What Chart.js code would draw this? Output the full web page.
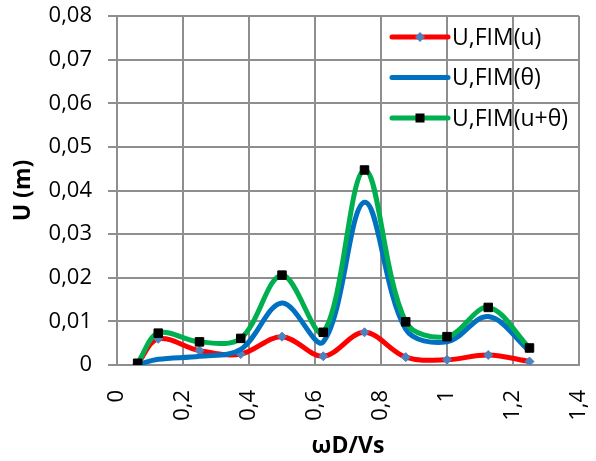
<!DOCTYPE html>
<html>
<head>
<meta charset="utf-8">
<script src="https://cdn.jsdelivr.net/npm/chart.js@4/dist/chart.umd.min.js"></script>
<style>
    html, body { margin: 0; padding: 0; background: #fff; }
    #wrap { width: 596px; height: 461px; }
</style>
</head>
<body>
<div id="wrap"><canvas id="chart" width="596" height="461"></canvas></div>
<script>
// frequency ratio wD/Vs
const xValues = [0.0625, 0.125, 0.25, 0.375, 0.5, 0.625, 0.75, 0.875, 1.0, 1.125, 1.25];

// displacement U (m)
const uFimU = [0.0003, 0.0060, 0.0033, 0.0025, 0.0065, 0.0020, 0.0075, 0.0018, 0.0012, 0.0023, 0.0008];
const uFimTheta = [0.0001, 0.0013, 0.0020, 0.0036, 0.0142, 0.0053, 0.0373, 0.0082, 0.0053, 0.0111, 0.0032];
const uFimSum = [0.0004, 0.0073, 0.0053, 0.0061, 0.0206, 0.0075, 0.0447, 0.0099, 0.0065, 0.0132, 0.0039];

const seriesLabels = ['U,FIM(u)', 'U,FIM(θ)', 'U,FIM(u+θ)'];

const gridColor = '#8e8e8e';

Chart.defaults.font.family = "'Open Sans', sans-serif";
Chart.defaults.font.size = 22;
Chart.defaults.color = '#000';

const toPoints = (ys) => xValues.map((x, i) => ({ x: x, y: ys[i] }));

// Legend drawn inside the plot, top right, over the grid
const insideLegend = {
    id: 'insideLegend',
    afterDraw(chart) {
        const ctx = chart.ctx;
        const x0 = 392, x1 = 448, textX = 452;
        chart.data.datasets.forEach((ds, i) => {
            const y = 37 + i * 40.5;
            ctx.save();
            ctx.strokeStyle = ds.borderColor;
            ctx.lineWidth = 5;
            ctx.lineCap = 'round';
            ctx.beginPath();
            ctx.moveTo(x0, y);
            ctx.lineTo(x1, y);
            ctx.stroke();
            const mx = (x0 + x1) / 2;
            if (ds.pointStyle === 'rectRot') {
                ctx.fillStyle = ds.pointBackgroundColor;
                ctx.beginPath();
                ctx.moveTo(mx - 5, y);
                ctx.lineTo(mx, y - 5);
                ctx.lineTo(mx + 5, y);
                ctx.lineTo(mx, y + 5);
                ctx.closePath();
                ctx.fill();
            } else if (ds.pointStyle === 'rect') {
                ctx.fillStyle = ds.pointBackgroundColor;
                ctx.fillRect(mx - 4.5, y - 4.5, 9, 9);
            }
            ctx.fillStyle = '#000';
            ctx.font = "23px 'Open Sans', sans-serif";
            ctx.textBaseline = 'middle';
            ctx.textAlign = 'left';
            ctx.fillText(ds.label, textX, y + 1);
            ctx.restore();
        });
    }
};

new Chart(document.getElementById('chart'), {
    type: 'line',
    data: {
        datasets: [
            {
                label: seriesLabels[0],
                data: toPoints(uFimU),
                borderColor: '#ff0000',
                borderWidth: 5,
                tension: 0.35,
                pointStyle: 'rectRot',
                pointRadius: 4.5,
                pointBackgroundColor: '#4f81bd',
                pointBorderColor: '#4f81bd',
                pointBorderWidth: 1,
                order: 3
            },
            {
                label: seriesLabels[1],
                data: toPoints(uFimTheta),
                borderColor: '#0070c0',
                borderWidth: 5,
                tension: 0.35,
                pointRadius: 0,
                order: 2
            },
            {
                label: seriesLabels[2],
                data: toPoints(uFimSum),
                borderColor: '#00b050',
                borderWidth: 5,
                tension: 0.35,
                pointStyle: 'rect',
                pointRadius: 6,
                pointBackgroundColor: '#000',
                pointBorderColor: '#000',
                pointBorderWidth: 1,
                order: 1
            }
        ]
    },
    options: {
        responsive: false,
        animation: false,
        layout: { padding: { top: 16, right: 17, left: 0, bottom: 0 } },
        plugins: {
            legend: { display: false },
            tooltip: { enabled: false }
        },
        scales: {
            x: {
                type: 'linear',
                min: 0,
                max: 1.4,
                afterFit: (scale) => {
                    scale.height = 96;
                    scale.paddingLeft = 0;
                    scale.paddingRight = 0;
                },
                ticks: {
                    stepSize: 0.2,
                    minRotation: 90,
                    maxRotation: 90,
                    padding: 25,
                    callback: (v) => String(Math.round(v * 10) / 10).replace('.', ',')
                },
                grid: { color: gridColor, lineWidth: 2, drawTicks: false },
                border: { color: gridColor, width: 2 },
                title: {
                    display: true,
                    text: 'ωD/Vs',
                    font: { weight: 'bold', size: 23 },
                    padding: { top: 0, bottom: 1 }
                }
            },
            y: {
                min: 0,
                max: 0.08,
                afterFit: (scale) => {
                    scale.width = 117;
                    scale.paddingTop = 0;
                    scale.paddingBottom = 0;
                },
                ticks: {
                    stepSize: 0.01,
                    padding: 16,
                    callback: (v) => v === 0 ? '0' : v.toFixed(2).replace('.', ',')
                },
                grid: { color: gridColor, lineWidth: 2, tickLength: 9 },
                border: { color: gridColor, width: 2 },
                title: {
                    display: true,
                    text: 'U (m)',
                    font: { weight: 'bold', size: 23 },
                    padding: { top: 10, bottom: 0 }
                }
            }
        }
    },
    plugins: [insideLegend]
});
</script>
</body>
</html>
